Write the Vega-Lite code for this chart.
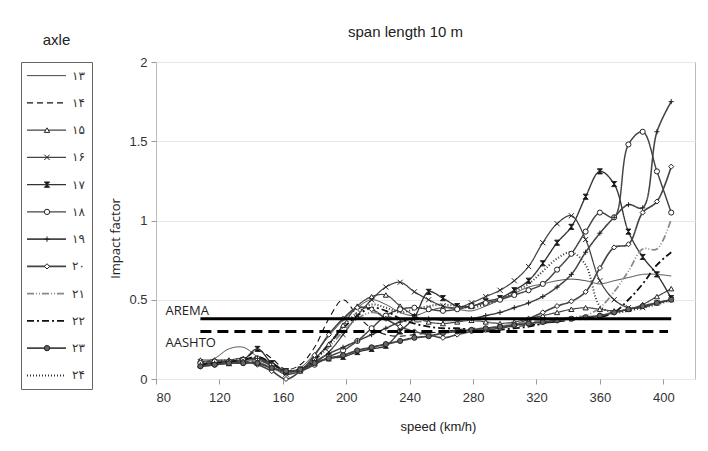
{
"$schema":"https://vega.github.io/schema/vega-lite/v6.json",
"background":"white",
"padding":{"left":20,"top":24,"right":5,"bottom":5},
"config":{"font":"Liberation Sans","view":{"stroke":null}},
"spacing":16,
"datasets":{
"legend":[{"axle":"۱۳"},{"axle":"۱۴"},{"axle":"۱۵"},{"axle":"۱۶"},{"axle":"۱۷"},{"axle":"۱۸"},{"axle":"۱۹"},{"axle":"۲۰"},{"axle":"۲۱"},{"axle":"۲۲"},{"axle":"۲۳"},{"axle":"۲۴"}],
"codes":[{"code":"AREMA","speed":108,"value":0.38},{"code":"AREMA","speed":405,"value":0.38},{"code":"AASHTO","speed":108,"value":0.3},{"code":"AASHTO","speed":403,"value":0.3}],
"codeLabels":[{"label":"AREMA","speed":86,"value":0.43},{"label":"AASHTO","speed":86,"value":0.23}],
"series":[
{"axle":"۱۳","speed":108,"value":0.10},{"axle":"۱۳","speed":117,"value":0.13},{"axle":"۱۳","speed":126,"value":0.19},{"axle":"۱۳","speed":135,"value":0.20},{"axle":"۱۳","speed":144,"value":0.14},{"axle":"۱۳","speed":153,"value":0.08},{"axle":"۱۳","speed":162,"value":0.03},{"axle":"۱۳","speed":171,"value":0.07},{"axle":"۱۳","speed":180,"value":0.16},{"axle":"۱۳","speed":189,"value":0.27},{"axle":"۱۳","speed":198,"value":0.37},{"axle":"۱۳","speed":207,"value":0.45},{"axle":"۱۳","speed":216,"value":0.50},{"axle":"۱۳","speed":225,"value":0.47},{"axle":"۱۳","speed":234,"value":0.42},{"axle":"۱۳","speed":243,"value":0.40},{"axle":"۱۳","speed":252,"value":0.43},{"axle":"۱۳","speed":261,"value":0.45},{"axle":"۱۳","speed":270,"value":0.44},{"axle":"۱۳","speed":279,"value":0.43},{"axle":"۱۳","speed":288,"value":0.46},{"axle":"۱۳","speed":297,"value":0.50},{"axle":"۱۳","speed":306,"value":0.54},{"axle":"۱۳","speed":315,"value":0.58},{"axle":"۱۳","speed":324,"value":0.60},{"axle":"۱۳","speed":333,"value":0.62},{"axle":"۱۳","speed":342,"value":0.63},{"axle":"۱۳","speed":351,"value":0.62},{"axle":"۱۳","speed":360,"value":0.60},{"axle":"۱۳","speed":369,"value":0.62},{"axle":"۱۳","speed":378,"value":0.64},{"axle":"۱۳","speed":387,"value":0.66},{"axle":"۱۳","speed":396,"value":0.66},{"axle":"۱۳","speed":405,"value":0.65},
{"axle":"۱۴","speed":108,"value":0.09},{"axle":"۱۴","speed":117,"value":0.10},{"axle":"۱۴","speed":126,"value":0.11},{"axle":"۱۴","speed":135,"value":0.12},{"axle":"۱۴","speed":144,"value":0.18},{"axle":"۱۴","speed":153,"value":0.13},{"axle":"۱۴","speed":162,"value":0.06},{"axle":"۱۴","speed":171,"value":0.09},{"axle":"۱۴","speed":180,"value":0.20},{"axle":"۱۴","speed":189,"value":0.38},{"axle":"۱۴","speed":198,"value":0.50},{"axle":"۱۴","speed":207,"value":0.40},{"axle":"۱۴","speed":216,"value":0.32},{"axle":"۱۴","speed":225,"value":0.28},{"axle":"۱۴","speed":234,"value":0.27},{"axle":"۱۴","speed":243,"value":0.28},{"axle":"۱۴","speed":252,"value":0.29},{"axle":"۱۴","speed":261,"value":0.30},{"axle":"۱۴","speed":270,"value":0.31},{"axle":"۱۴","speed":279,"value":0.32},{"axle":"۱۴","speed":288,"value":0.32},{"axle":"۱۴","speed":297,"value":0.33},{"axle":"۱۴","speed":306,"value":0.33},{"axle":"۱۴","speed":315,"value":0.34},{"axle":"۱۴","speed":324,"value":0.35},{"axle":"۱۴","speed":333,"value":0.36},{"axle":"۱۴","speed":342,"value":0.37},{"axle":"۱۴","speed":351,"value":0.38},{"axle":"۱۴","speed":360,"value":0.40},{"axle":"۱۴","speed":369,"value":0.42},{"axle":"۱۴","speed":378,"value":0.44},{"axle":"۱۴","speed":387,"value":0.46},{"axle":"۱۴","speed":396,"value":0.48},{"axle":"۱۴","speed":405,"value":0.50},
{"axle":"۱۵","speed":108,"value":0.12},{"axle":"۱۵","speed":117,"value":0.12},{"axle":"۱۵","speed":126,"value":0.12},{"axle":"۱۵","speed":135,"value":0.13},{"axle":"۱۵","speed":144,"value":0.10},{"axle":"۱۵","speed":153,"value":0.07},{"axle":"۱۵","speed":162,"value":0.04},{"axle":"۱۵","speed":171,"value":0.06},{"axle":"۱۵","speed":180,"value":0.13},{"axle":"۱۵","speed":189,"value":0.22},{"axle":"۱۵","speed":198,"value":0.34},{"axle":"۱۵","speed":207,"value":0.46},{"axle":"۱۵","speed":216,"value":0.52},{"axle":"۱۵","speed":225,"value":0.53},{"axle":"۱۵","speed":234,"value":0.46},{"axle":"۱۵","speed":243,"value":0.40},{"axle":"۱۵","speed":252,"value":0.36},{"axle":"۱۵","speed":261,"value":0.35},{"axle":"۱۵","speed":270,"value":0.36},{"axle":"۱۵","speed":279,"value":0.37},{"axle":"۱۵","speed":288,"value":0.36},{"axle":"۱۵","speed":297,"value":0.35},{"axle":"۱۵","speed":306,"value":0.36},{"axle":"۱۵","speed":315,"value":0.38},{"axle":"۱۵","speed":324,"value":0.40},{"axle":"۱۵","speed":333,"value":0.42},{"axle":"۱۵","speed":342,"value":0.44},{"axle":"۱۵","speed":351,"value":0.45},{"axle":"۱۵","speed":360,"value":0.44},{"axle":"۱۵","speed":369,"value":0.43},{"axle":"۱۵","speed":378,"value":0.44},{"axle":"۱۵","speed":387,"value":0.47},{"axle":"۱۵","speed":396,"value":0.52},{"axle":"۱۵","speed":405,"value":0.57},
{"axle":"۱۶","speed":108,"value":0.11},{"axle":"۱۶","speed":117,"value":0.11},{"axle":"۱۶","speed":126,"value":0.10},{"axle":"۱۶","speed":135,"value":0.11},{"axle":"۱۶","speed":144,"value":0.12},{"axle":"۱۶","speed":153,"value":0.08},{"axle":"۱۶","speed":162,"value":0.03},{"axle":"۱۶","speed":171,"value":0.05},{"axle":"۱۶","speed":180,"value":0.10},{"axle":"۱۶","speed":189,"value":0.17},{"axle":"۱۶","speed":198,"value":0.28},{"axle":"۱۶","speed":207,"value":0.40},{"axle":"۱۶","speed":216,"value":0.50},{"axle":"۱۶","speed":225,"value":0.58},{"axle":"۱۶","speed":234,"value":0.61},{"axle":"۱۶","speed":243,"value":0.55},{"axle":"۱۶","speed":252,"value":0.50},{"axle":"۱۶","speed":261,"value":0.46},{"axle":"۱۶","speed":270,"value":0.45},{"axle":"۱۶","speed":279,"value":0.48},{"axle":"۱۶","speed":288,"value":0.52},{"axle":"۱۶","speed":297,"value":0.56},{"axle":"۱۶","speed":306,"value":0.62},{"axle":"۱۶","speed":315,"value":0.71},{"axle":"۱۶","speed":324,"value":0.86},{"axle":"۱۶","speed":333,"value":0.98},{"axle":"۱۶","speed":342,"value":1.03},{"axle":"۱۶","speed":351,"value":0.88},{"axle":"۱۶","speed":360,"value":0.62},{"axle":"۱۶","speed":369,"value":0.50},{"axle":"۱۶","speed":378,"value":0.45},{"axle":"۱۶","speed":387,"value":0.45},{"axle":"۱۶","speed":396,"value":0.48},{"axle":"۱۶","speed":405,"value":0.50},
{"axle":"۱۷","speed":108,"value":0.09},{"axle":"۱۷","speed":117,"value":0.10},{"axle":"۱۷","speed":126,"value":0.10},{"axle":"۱۷","speed":135,"value":0.12},{"axle":"۱۷","speed":144,"value":0.19},{"axle":"۱۷","speed":153,"value":0.10},{"axle":"۱۷","speed":162,"value":0.05},{"axle":"۱۷","speed":171,"value":0.06},{"axle":"۱۷","speed":180,"value":0.10},{"axle":"۱۷","speed":189,"value":0.13},{"axle":"۱۷","speed":198,"value":0.14},{"axle":"۱۷","speed":207,"value":0.17},{"axle":"۱۷","speed":216,"value":0.19},{"axle":"۱۷","speed":225,"value":0.21},{"axle":"۱۷","speed":234,"value":0.30},{"axle":"۱۷","speed":243,"value":0.39},{"axle":"۱۷","speed":252,"value":0.55},{"axle":"۱۷","speed":261,"value":0.51},{"axle":"۱۷","speed":270,"value":0.46},{"axle":"۱۷","speed":279,"value":0.46},{"axle":"۱۷","speed":288,"value":0.49},{"axle":"۱۷","speed":297,"value":0.51},{"axle":"۱۷","speed":306,"value":0.56},{"axle":"۱۷","speed":315,"value":0.62},{"axle":"۱۷","speed":324,"value":0.73},{"axle":"۱۷","speed":333,"value":0.86},{"axle":"۱۷","speed":342,"value":0.96},{"axle":"۱۷","speed":351,"value":1.15},{"axle":"۱۷","speed":360,"value":1.31},{"axle":"۱۷","speed":369,"value":1.23},{"axle":"۱۷","speed":378,"value":0.93},{"axle":"۱۷","speed":387,"value":0.77},{"axle":"۱۷","speed":396,"value":0.66},{"axle":"۱۷","speed":405,"value":0.51},
{"axle":"۱۸","speed":108,"value":0.10},{"axle":"۱۸","speed":117,"value":0.11},{"axle":"۱۸","speed":126,"value":0.11},{"axle":"۱۸","speed":135,"value":0.12},{"axle":"۱۸","speed":144,"value":0.13},{"axle":"۱۸","speed":153,"value":0.09},{"axle":"۱۸","speed":162,"value":0.05},{"axle":"۱۸","speed":171,"value":0.05},{"axle":"۱۸","speed":180,"value":0.09},{"axle":"۱۸","speed":189,"value":0.14},{"axle":"۱۸","speed":198,"value":0.18},{"axle":"۱۸","speed":207,"value":0.24},{"axle":"۱۸","speed":216,"value":0.32},{"axle":"۱۸","speed":225,"value":0.40},{"axle":"۱۸","speed":234,"value":0.44},{"axle":"۱۸","speed":243,"value":0.45},{"axle":"۱۸","speed":252,"value":0.44},{"axle":"۱۸","speed":261,"value":0.43},{"axle":"۱۸","speed":270,"value":0.44},{"axle":"۱۸","speed":279,"value":0.46},{"axle":"۱۸","speed":288,"value":0.48},{"axle":"۱۸","speed":297,"value":0.50},{"axle":"۱۸","speed":306,"value":0.53},{"axle":"۱۸","speed":315,"value":0.56},{"axle":"۱۸","speed":324,"value":0.60},{"axle":"۱۸","speed":333,"value":0.69},{"axle":"۱۸","speed":342,"value":0.79},{"axle":"۱۸","speed":351,"value":0.93},{"axle":"۱۸","speed":360,"value":1.05},{"axle":"۱۸","speed":369,"value":1.02},{"axle":"۱۸","speed":378,"value":1.48},{"axle":"۱۸","speed":387,"value":1.56},{"axle":"۱۸","speed":396,"value":1.31},{"axle":"۱۸","speed":405,"value":1.05},
{"axle":"۱۹","speed":108,"value":0.09},{"axle":"۱۹","speed":117,"value":0.10},{"axle":"۱۹","speed":126,"value":0.11},{"axle":"۱۹","speed":135,"value":0.11},{"axle":"۱۹","speed":144,"value":0.13},{"axle":"۱۹","speed":153,"value":0.10},{"axle":"۱۹","speed":162,"value":0.05},{"axle":"۱۹","speed":171,"value":0.06},{"axle":"۱۹","speed":180,"value":0.11},{"axle":"۱۹","speed":189,"value":0.16},{"axle":"۱۹","speed":198,"value":0.20},{"axle":"۱۹","speed":207,"value":0.24},{"axle":"۱۹","speed":216,"value":0.28},{"axle":"۱۹","speed":225,"value":0.32},{"axle":"۱۹","speed":234,"value":0.36},{"axle":"۱۹","speed":243,"value":0.38},{"axle":"۱۹","speed":252,"value":0.38},{"axle":"۱۹","speed":261,"value":0.37},{"axle":"۱۹","speed":270,"value":0.37},{"axle":"۱۹","speed":279,"value":0.38},{"axle":"۱۹","speed":288,"value":0.40},{"axle":"۱۹","speed":297,"value":0.42},{"axle":"۱۹","speed":306,"value":0.45},{"axle":"۱۹","speed":315,"value":0.48},{"axle":"۱۹","speed":324,"value":0.52},{"axle":"۱۹","speed":333,"value":0.58},{"axle":"۱۹","speed":342,"value":0.66},{"axle":"۱۹","speed":351,"value":0.80},{"axle":"۱۹","speed":360,"value":0.92},{"axle":"۱۹","speed":369,"value":1.02},{"axle":"۱۹","speed":378,"value":1.10},{"axle":"۱۹","speed":387,"value":1.08},{"axle":"۱۹","speed":396,"value":1.56},{"axle":"۱۹","speed":405,"value":1.75},
{"axle":"۲۰","speed":108,"value":0.08},{"axle":"۲۰","speed":117,"value":0.09},{"axle":"۲۰","speed":126,"value":0.10},{"axle":"۲۰","speed":135,"value":0.11},{"axle":"۲۰","speed":144,"value":0.09},{"axle":"۲۰","speed":153,"value":0.05},{"axle":"۲۰","speed":162,"value":0.00},{"axle":"۲۰","speed":171,"value":0.05},{"axle":"۲۰","speed":180,"value":0.15},{"axle":"۲۰","speed":189,"value":0.28},{"axle":"۲۰","speed":198,"value":0.38},{"axle":"۲۰","speed":207,"value":0.45},{"axle":"۲۰","speed":216,"value":0.44},{"axle":"۲۰","speed":225,"value":0.38},{"axle":"۲۰","speed":234,"value":0.33},{"axle":"۲۰","speed":243,"value":0.30},{"axle":"۲۰","speed":252,"value":0.28},{"axle":"۲۰","speed":261,"value":0.26},{"axle":"۲۰","speed":270,"value":0.28},{"axle":"۲۰","speed":279,"value":0.30},{"axle":"۲۰","speed":288,"value":0.31},{"axle":"۲۰","speed":297,"value":0.32},{"axle":"۲۰","speed":306,"value":0.34},{"axle":"۲۰","speed":315,"value":0.38},{"axle":"۲۰","speed":324,"value":0.42},{"axle":"۲۰","speed":333,"value":0.46},{"axle":"۲۰","speed":342,"value":0.49},{"axle":"۲۰","speed":351,"value":0.55},{"axle":"۲۰","speed":360,"value":0.70},{"axle":"۲۰","speed":369,"value":0.83},{"axle":"۲۰","speed":378,"value":0.85},{"axle":"۲۰","speed":387,"value":1.05},{"axle":"۲۰","speed":396,"value":1.12},{"axle":"۲۰","speed":405,"value":1.34},
{"axle":"۲۱","speed":108,"value":0.10},{"axle":"۲۱","speed":117,"value":0.11},{"axle":"۲۱","speed":126,"value":0.10},{"axle":"۲۱","speed":135,"value":0.12},{"axle":"۲۱","speed":144,"value":0.11},{"axle":"۲۱","speed":153,"value":0.07},{"axle":"۲۱","speed":162,"value":0.04},{"axle":"۲۱","speed":171,"value":0.06},{"axle":"۲۱","speed":180,"value":0.12},{"axle":"۲۱","speed":189,"value":0.20},{"axle":"۲۱","speed":198,"value":0.30},{"axle":"۲۱","speed":207,"value":0.38},{"axle":"۲۱","speed":216,"value":0.42},{"axle":"۲۱","speed":225,"value":0.40},{"axle":"۲۱","speed":234,"value":0.37},{"axle":"۲۱","speed":243,"value":0.36},{"axle":"۲۱","speed":252,"value":0.37},{"axle":"۲۱","speed":261,"value":0.38},{"axle":"۲۱","speed":270,"value":0.38},{"axle":"۲۱","speed":279,"value":0.37},{"axle":"۲۱","speed":288,"value":0.36},{"axle":"۲۱","speed":297,"value":0.35},{"axle":"۲۱","speed":306,"value":0.35},{"axle":"۲۱","speed":315,"value":0.36},{"axle":"۲۱","speed":324,"value":0.37},{"axle":"۲۱","speed":333,"value":0.38},{"axle":"۲۱","speed":342,"value":0.39},{"axle":"۲۱","speed":351,"value":0.40},{"axle":"۲۱","speed":360,"value":0.45},{"axle":"۲۱","speed":369,"value":0.55},{"axle":"۲۱","speed":378,"value":0.68},{"axle":"۲۱","speed":387,"value":0.82},{"axle":"۲۱","speed":396,"value":0.82},{"axle":"۲۱","speed":405,"value":1.01},
{"axle":"۲۲","speed":108,"value":0.09},{"axle":"۲۲","speed":117,"value":0.10},{"axle":"۲۲","speed":126,"value":0.11},{"axle":"۲۲","speed":135,"value":0.12},{"axle":"۲۲","speed":144,"value":0.14},{"axle":"۲۲","speed":153,"value":0.10},{"axle":"۲۲","speed":162,"value":0.05},{"axle":"۲۲","speed":171,"value":0.06},{"axle":"۲۲","speed":180,"value":0.12},{"axle":"۲۲","speed":189,"value":0.22},{"axle":"۲۲","speed":198,"value":0.32},{"axle":"۲۲","speed":207,"value":0.40},{"axle":"۲۲","speed":216,"value":0.45},{"axle":"۲۲","speed":225,"value":0.43},{"axle":"۲۲","speed":234,"value":0.38},{"axle":"۲۲","speed":243,"value":0.35},{"axle":"۲۲","speed":252,"value":0.33},{"axle":"۲۲","speed":261,"value":0.32},{"axle":"۲۲","speed":270,"value":0.32},{"axle":"۲۲","speed":279,"value":0.31},{"axle":"۲۲","speed":288,"value":0.30},{"axle":"۲۲","speed":297,"value":0.31},{"axle":"۲۲","speed":306,"value":0.32},{"axle":"۲۲","speed":315,"value":0.33},{"axle":"۲۲","speed":324,"value":0.35},{"axle":"۲۲","speed":333,"value":0.37},{"axle":"۲۲","speed":342,"value":0.38},{"axle":"۲۲","speed":351,"value":0.38},{"axle":"۲۲","speed":360,"value":0.39},{"axle":"۲۲","speed":369,"value":0.42},{"axle":"۲۲","speed":378,"value":0.50},{"axle":"۲۲","speed":387,"value":0.60},{"axle":"۲۲","speed":396,"value":0.72},{"axle":"۲۲","speed":405,"value":0.80},
{"axle":"۲۳","speed":108,"value":0.08},{"axle":"۲۳","speed":117,"value":0.09},{"axle":"۲۳","speed":126,"value":0.10},{"axle":"۲۳","speed":135,"value":0.10},{"axle":"۲۳","speed":144,"value":0.10},{"axle":"۲۳","speed":153,"value":0.07},{"axle":"۲۳","speed":162,"value":0.05},{"axle":"۲۳","speed":171,"value":0.06},{"axle":"۲۳","speed":180,"value":0.10},{"axle":"۲۳","speed":189,"value":0.13},{"axle":"۲۳","speed":198,"value":0.15},{"axle":"۲۳","speed":207,"value":0.18},{"axle":"۲۳","speed":216,"value":0.20},{"axle":"۲۳","speed":225,"value":0.22},{"axle":"۲۳","speed":234,"value":0.24},{"axle":"۲۳","speed":243,"value":0.26},{"axle":"۲۳","speed":252,"value":0.27},{"axle":"۲۳","speed":261,"value":0.29},{"axle":"۲۳","speed":270,"value":0.30},{"axle":"۲۳","speed":279,"value":0.31},{"axle":"۲۳","speed":288,"value":0.32},{"axle":"۲۳","speed":297,"value":0.33},{"axle":"۲۳","speed":306,"value":0.34},{"axle":"۲۳","speed":315,"value":0.35},{"axle":"۲۳","speed":324,"value":0.36},{"axle":"۲۳","speed":333,"value":0.37},{"axle":"۲۳","speed":342,"value":0.38},{"axle":"۲۳","speed":351,"value":0.39},{"axle":"۲۳","speed":360,"value":0.40},{"axle":"۲۳","speed":369,"value":0.42},{"axle":"۲۳","speed":378,"value":0.44},{"axle":"۲۳","speed":387,"value":0.46},{"axle":"۲۳","speed":396,"value":0.48},{"axle":"۲۳","speed":405,"value":0.50},
{"axle":"۲۴","speed":108,"value":0.10},{"axle":"۲۴","speed":117,"value":0.11},{"axle":"۲۴","speed":126,"value":0.12},{"axle":"۲۴","speed":135,"value":0.12},{"axle":"۲۴","speed":144,"value":0.13},{"axle":"۲۴","speed":153,"value":0.10},{"axle":"۲۴","speed":162,"value":0.05},{"axle":"۲۴","speed":171,"value":0.06},{"axle":"۲۴","speed":180,"value":0.12},{"axle":"۲۴","speed":189,"value":0.22},{"axle":"۲۴","speed":198,"value":0.33},{"axle":"۲۴","speed":207,"value":0.42},{"axle":"۲۴","speed":216,"value":0.47},{"axle":"۲۴","speed":225,"value":0.45},{"axle":"۲۴","speed":234,"value":0.42},{"axle":"۲۴","speed":243,"value":0.44},{"axle":"۲۴","speed":252,"value":0.46},{"axle":"۲۴","speed":261,"value":0.47},{"axle":"۲۴","speed":270,"value":0.46},{"axle":"۲۴","speed":279,"value":0.45},{"axle":"۲۴","speed":288,"value":0.47},{"axle":"۲۴","speed":297,"value":0.50},{"axle":"۲۴","speed":306,"value":0.55},{"axle":"۲۴","speed":315,"value":0.60},{"axle":"۲۴","speed":324,"value":0.68},{"axle":"۲۴","speed":333,"value":0.76},{"axle":"۲۴","speed":342,"value":0.80},{"axle":"۲۴","speed":351,"value":0.72},{"axle":"۲۴","speed":360,"value":0.46},{"axle":"۲۴","speed":369,"value":0.42},{"axle":"۲۴","speed":378,"value":0.43},{"axle":"۲۴","speed":387,"value":0.45},{"axle":"۲۴","speed":396,"value":0.47},{"axle":"۲۴","speed":405,"value":0.50}
]},
"resolve":{"scale":{"x":"independent","y":"independent"}},
"hconcat":[
{
"title":{"text":"axle","fontSize":15,"fontWeight":"normal","color":"#222","offset":14},
"width":71,"height":327,
"view":{"stroke":"#666","strokeWidth":1},
"data":{"name":"legend"},
"layer":[
{"mark":{"type":"rule"},
"encoding":{
"x":{"datum":6,"type":"quantitative","scale":{"domain":[0,71],"nice":false,"zero":true},"axis":null},
"x2":{"datum":45},
"y":{"field":"axle","type":"ordinal","scale":{"type":"point","padding":0.5,"domain":["۱۳","۱۴","۱۵","۱۶","۱۷","۱۸","۱۹","۲۰","۲۱","۲۲","۲۳","۲۴"]},"axis":null},
"strokeDash":{"field":"axle","type":"nominal","scale":{"domain":["۱۳","۱۴","۱۵","۱۶","۱۷","۱۸","۱۹","۲۰","۲۱","۲۲","۲۳","۲۴"],"range":[[1,0],[6,4],[1,0],[1,0],[1,0],[1,0],[1,0],[1,0],[7,2,1,2,1,2],[7,3,2,3],[1,0],[1,2]]},"legend":null},
"strokeWidth":{"field":"axle","type":"nominal","scale":{"domain":["۱۳","۱۴","۱۵","۱۶","۱۷","۱۸","۱۹","۲۰","۲۱","۲۲","۲۳","۲۴"],"range":[1,2,1,1,1,1,1,1,1,2,1,1.2]},"legend":null},
"color":{"field":"axle","type":"nominal","scale":{"domain":["۱۳","۱۴","۱۵","۱۶","۱۷","۱۸","۱۹","۲۰","۲۱","۲۲","۲۳","۲۴"],"range":["#444","#111","#444","#444","#333","#444","#444","#444","#888","#111","#444","#333"]},"legend":null}
}},
{"transform":[{"filter":{"field":"axle","oneOf":["۱۵","۱۶","۱۷","۱۸","۱۹","۲۰","۲۳"]}}],
"mark":{"type":"point","filled":true,"stroke":"#222","strokeWidth":1,"size":28,"opacity":1},
"encoding":{
"x":{"datum":26,"type":"quantitative"},
"y":{"field":"axle","type":"ordinal"},
"shape":{"field":"axle","type":"nominal","scale":{"domain":["۱۵","۱۶","۱۷","۱۸","۱۹","۲۰","۲۳"],"range":["triangle-up","M-1,-1L1,1M-1,1L1,-1","M-1,-1L1,-1L-1,1L1,1Z","circle","M0,-1L0,1M-1,0L1,0","diamond","circle"]},"legend":null},
"fill":{"field":"axle","type":"nominal","scale":{"domain":["۱۵","۱۶","۱۷","۱۸","۱۹","۲۰","۲۳"],"range":["#fff","#fff","#111","#fff","#fff","#fff","#666"]},"legend":null}
}},
{"mark":{"type":"text","align":"left","baseline":"middle","fontSize":12,"font":"DejaVu Sans","color":"#333"},
"encoding":{
"x":{"datum":51,"type":"quantitative"},
"y":{"field":"axle","type":"ordinal"},
"text":{"field":"axle"}
}}
]
},
{
"title":{"text":"span length 10 m","fontSize":15,"fontWeight":"normal","color":"#222","offset":16,"dx":-20},
"width":539,"height":317,
"view":{"stroke":"#bbb","strokeWidth":1},
"layer":[
{"data":{"name":"series"},
"mark":{"type":"line","interpolate":"catmull-rom"},
"encoding":{
"x":{"field":"speed","type":"quantitative","scale":{"domain":[80,420],"nice":false,"zero":false},
"axis":{"values":[80,120,160,200,240,280,320,360,400],"title":"speed (km/h)","titleX":282,"grid":false,"domain":false,"tickColor":"#999","tickSize":5,"labelFontSize":13,"labelColor":"#333","labelPadding":7,"titleFontSize":13,"titleFontWeight":"normal","titleColor":"#222","titlePadding":16}},
"y":{"field":"value","type":"quantitative","scale":{"domain":[0,2],"nice":false},
"axis":{"values":[0,0.5,1,1.5,2],"format":"~g","title":"Impact factor","titleY":176,"grid":true,"gridColor":"#e8e8e8","domain":false,"tickColor":"#999","tickSize":5,"labelFontSize":13,"labelColor":"#333","labelPadding":4,"titleFontSize":13,"titleFontWeight":"normal","titleColor":"#222","titlePadding":6,"titleFont":"Open Sans"}},
"detail":{"field":"axle"},
"strokeDash":{"field":"axle","type":"nominal","scale":{"domain":["۱۳","۱۴","۱۵","۱۶","۱۷","۱۸","۱۹","۲۰","۲۱","۲۲","۲۳","۲۴"],"range":[[1,0],[6,4],[1,0],[1,0],[1,0],[1,0],[1,0],[1,0],[7,2,1,2,1,2],[7,3,2,3],[1,0],[1,2]]},"legend":null},
"strokeWidth":{"field":"axle","type":"nominal","scale":{"domain":["۱۳","۱۴","۱۵","۱۶","۱۷","۱۸","۱۹","۲۰","۲۱","۲۲","۲۳","۲۴"],"range":[1,2,1,1,1,1,1,1,1,2,1,1.2]},"legend":null},
"color":{"field":"axle","type":"nominal","scale":{"domain":["۱۳","۱۴","۱۵","۱۶","۱۷","۱۸","۱۹","۲۰","۲۱","۲۲","۲۳","۲۴"],"range":["#444","#111","#444","#444","#333","#444","#444","#444","#888","#111","#444","#333"]},"legend":null}
}},
{"data":{"name":"series"},
"transform":[{"filter":{"field":"axle","oneOf":["۱۵","۱۶","۱۷","۱۸","۱۹","۲۰","۲۳"]}}],
"mark":{"type":"point","filled":true,"stroke":"#222","strokeWidth":1,"size":26,"opacity":1},
"encoding":{
"x":{"field":"speed","type":"quantitative"},
"y":{"field":"value","type":"quantitative"},
"shape":{"field":"axle","type":"nominal","scale":{"domain":["۱۵","۱۶","۱۷","۱۸","۱۹","۲۰","۲۳"],"range":["triangle-up","M-1,-1L1,1M-1,1L1,-1","M-1,-1L1,-1L-1,1L1,1Z","circle","M0,-1L0,1M-1,0L1,0","diamond","circle"]},"legend":null},
"fill":{"field":"axle","type":"nominal","scale":{"domain":["۱۵","۱۶","۱۷","۱۸","۱۹","۲۰","۲۳"],"range":["#fff","#fff","#111","#fff","#fff","#fff","#666"]},"legend":null}
}},
{"data":{"name":"codes"},
"transform":[{"filter":"datum.code == 'AREMA'"}],
"mark":{"type":"line","color":"#000","strokeWidth":3},
"encoding":{"x":{"field":"speed","type":"quantitative"},"y":{"field":"value","type":"quantitative"}}},
{"data":{"name":"codes"},
"transform":[{"filter":"datum.code == 'AASHTO'"}],
"mark":{"type":"line","color":"#000","strokeWidth":3,"strokeDash":[11,6]},
"encoding":{"x":{"field":"speed","type":"quantitative"},"y":{"field":"value","type":"quantitative"}}},
{"data":{"name":"codeLabels"},
"mark":{"type":"text","align":"left","baseline":"middle","fontSize":13,"font":"Open Sans","color":"#222"},
"encoding":{"x":{"field":"speed","type":"quantitative"},"y":{"field":"value","type":"quantitative"},"text":{"field":"label"}}}
]
}
]
}
